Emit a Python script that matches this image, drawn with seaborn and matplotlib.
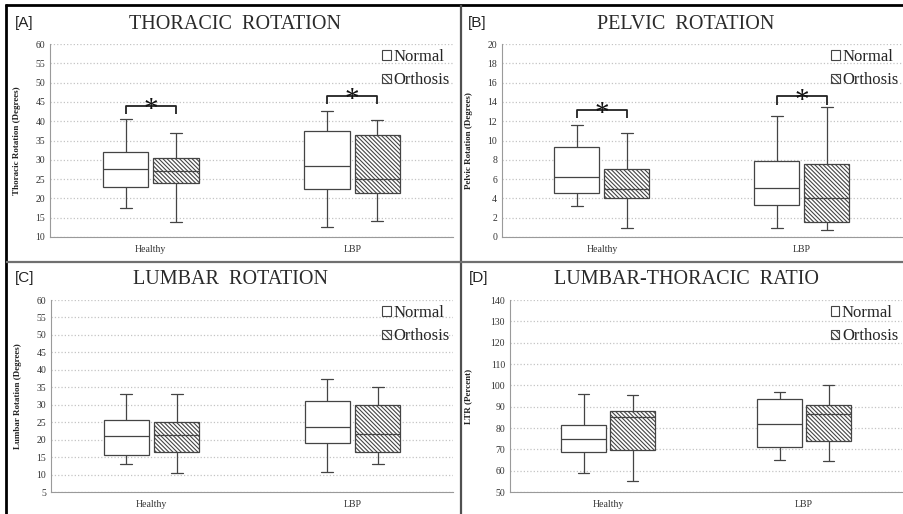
import numpy as np
import pandas as pd
import matplotlib
matplotlib.use("Agg")
import matplotlib.pyplot as plt
from matplotlib.patches import Patch
from matplotlib.lines import Line2D
import seaborn as sns

# five-number summaries: [min, Q1, median, Q3, max]
groups = ["Healthy", "LBP"]
conditions = ["Normal", "Orthosis"]

thoracic_normal = [[17.5, 23.0, 27.5, 32.0, 40.5], [12.5, 22.5, 28.3, 37.5, 42.7]]
thoracic_orthosis = [[14.0, 24.0, 27.0, 30.5, 37.0], [14.2, 21.5, 25.0, 36.3, 40.3]]

pelvic_normal = [[3.2, 4.6, 6.2, 9.3, 11.6], [0.9, 3.3, 5.1, 7.9, 12.5]]
pelvic_orthosis = [[0.9, 4.0, 5.0, 7.0, 10.8], [0.7, 1.6, 4.0, 7.6, 13.5]]

lumbar_normal = [[13.0, 15.7, 21.0, 25.5, 33.0], [10.7, 19.0, 23.5, 31.0, 37.5]]
lumbar_orthosis = [[10.3, 16.5, 21.2, 25.0, 33.0], [13.0, 16.5, 21.7, 29.8, 35.2]]

ltr_normal = [[58.7, 68.7, 75.0, 81.5, 96.0], [65.0, 71.3, 82.0, 93.7, 96.7]]
ltr_orthosis = [[55.0, 69.8, 85.0, 88.2, 95.7], [64.5, 74.0, 86.7, 91.0, 100.0]]

# significance brackets (top of bracket) per group
thoracic_sig = [44.0, 46.6]
pelvic_sig = [13.2, 14.6]

W, H = 904, 514
line_col = "#444444"
serif = "Liberation Serif"

sns.set_theme(style="white")
plt.rcParams["font.family"] = [serif, "DejaVu Serif"]
plt.rcParams["hatch.linewidth"] = 0.8

fig = plt.figure(figsize=(W / 100, H / 100), dpi=100)
fig.patch.set_facecolor("white")


def make_df(normal, orthosis):
    rows = []
    for gi, g in enumerate(groups):
        for cond, vals in zip(conditions, [normal[gi], orthosis[gi]]):
            for v in vals:
                rows.append({"group": g, "condition": cond, "value": v})
    return pd.DataFrame(rows)


def px_axes(left, right, top, bottom):
    return fig.add_axes([left / W, 1 - bottom / H, (right - left) / W, (bottom - top) / H])


def panel(box, normal, orthosis, ylim, step, ylabel, title, letter, title_xy, letter_xy, ylab_x, sig=None):
    ax = px_axes(*box)
    df = make_df(normal, orthosis)
    sns.boxplot(data=df, x="group", y="value", hue="condition", order=groups,
                hue_order=conditions, palette={"Normal": "white", "Orthosis": "white"},
                linecolor=line_col, linewidth=0.9, width=0.5, gap=0.1,
                whis=(0, 100), showfliers=False, legend=False, ax=ax, capwidths=0.06)
    # hatch the orthosis boxes
    for patch in ax.containers[1].boxes:
        patch.set_hatch("\\" * 8)
        patch.set_edgecolor(line_col)

    ax.set_ylim(*ylim)
    ax.set_xlim(-0.5, 1.5)
    ax.set_yticks(np.arange(ylim[0], ylim[1] + 0.1, step))
    ax.yaxis.grid(True, color="#c4c4c4", linestyle=":", linewidth=0.9)
    ax.set_axisbelow(True)
    for s in ["top", "right"]:
        ax.spines[s].set_visible(False)
    for s in ["left", "bottom"]:
        ax.spines[s].set_color("#9a9a9a")
        ax.spines[s].set_linewidth(0.8)
    ax.tick_params(axis="both", length=0, labelsize=7, labelcolor="#333333")
    ax.tick_params(axis="x", pad=6)
    ax.set_xlabel("")
    ax.set_ylabel(ylabel, fontsize=6.5, fontweight="bold", color="#222222")
    ax.yaxis.set_label_coords(ylab_x, 0.5)

    handles = [Patch(facecolor="white", edgecolor=line_col, linewidth=0.8, label="Normal"),
               Patch(facecolor="white", edgecolor=line_col, linewidth=0.8, hatch="\\" * 6, label="Orthosis")]
    ax.legend(handles=handles, loc="upper right", bbox_to_anchor=(1.02, 1.035), frameon=False,
              fontsize=12, handlelength=0.5, handleheight=0.5, handletextpad=0.15,
              labelspacing=0.45, borderpad=0.2)

    if sig is not None:
        span = ylim[1] - ylim[0]
        for gi, top in enumerate(sig):
            x0, x1 = gi - 0.125, gi + 0.125
            drop = span * 0.045
            ax.plot([x0, x0, x1, x1], [top - drop, top, top, top - drop],
                    color="#222222", linewidth=1.3, solid_capstyle="butt")
            ax.text(gi, top - span * 0.06, "*", ha="center", va="baseline",
                    fontsize=21, color="#111111")

    fig.text(title_xy[0] / W, 1 - title_xy[1] / H, title, ha="center", va="center",
             fontsize=14.5, color="#2a2a2a", family=serif)
    fig.text(letter_xy[0] / W, 1 - letter_xy[1] / H, letter, ha="left", va="center",
             fontsize=11, color="#222222", family="Liberation Sans")
    return ax


panel((50, 453, 44, 237), thoracic_normal, thoracic_orthosis, (10, 60), 5,
      "Thoracic Rotation (Degrees)", "THORACIC  ROTATION", "[A]", (235, 24), (15, 23), -0.072,
      sig=thoracic_sig)
panel((502, 902, 44, 237), pelvic_normal, pelvic_orthosis, (0, 20), 2,
      "Pelvic Rotation (Degrees)", "PELVIC  ROTATION", "[B]", (686, 24), (468, 23), -0.072,
      sig=pelvic_sig)
panel((51, 453, 300, 492), lumbar_normal, lumbar_orthosis, (5, 60), 5,
      "Lumbar Rotation (Degrees)", "LUMBAR  ROTATION", "[C]", (231, 279), (15, 278), -0.072)
panel((510, 902, 300, 492), ltr_normal, ltr_orthosis, (50, 140), 10,
      "LTR (Percent)", "LUMBAR-THORACIC  RATIO", "[D]", (687, 279), (469, 278), -0.097)

# panel frame lines
def fig_line(x0, y0, x1, y1, color, lw):
    fig.add_artist(Line2D([x0 / W, x1 / W], [1 - y0 / H, 1 - y1 / H], transform=fig.transFigure,
                          color=color, linewidth=lw, solid_capstyle="butt"))

fig_line(5, 5, W, 5, "black", 2)
fig_line(6, 4, 6, H, "black", 2)
fig_line(461, 5, 461, H, "#505050", 1.6)
fig_line(6, 262, W, 262, "#707070", 1.6)

fig.savefig("out.png", dpi=100)
